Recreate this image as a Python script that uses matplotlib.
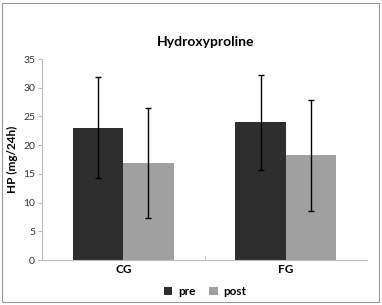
import numpy as np
import matplotlib.pyplot as plt
from matplotlib.patches import Rectangle

plt.rcParams['font.family'] = ['Lato', 'DejaVu Sans']

# data
groups = ['CG', 'FG']
pre_vals = [23.0, 24.0]
post_vals = [16.9, 18.2]
pre_err = [8.8, 8.3]
post_err = [9.5, 9.7]
series = ['pre', 'post']
yticks = [0, 5, 10, 15, 20, 25, 30, 35]

fig = plt.figure(figsize=(3.82, 3.05), dpi=100)
ax = fig.add_axes([0.110, 0.1475, 0.851, 0.659])

x = np.arange(len(groups))
w = 0.31
ax.bar(x - w/2, pre_vals, w, color='#2e2e2e', label=series[0],
       yerr=pre_err, error_kw=dict(ecolor='black', elinewidth=1, capsize=2.5, capthick=1))
ax.bar(x + w/2, post_vals, w, color='#a0a0a0', label=series[1],
       yerr=post_err, error_kw=dict(ecolor='black', elinewidth=1, capsize=2.5, capthick=1))

ax.set_xlim(-0.5, 1.5)
ax.set_ylim(0, 35)
ax.set_yticks(yticks)
ax.set_xticks(x)
ax.set_xticklabels(groups, fontweight='bold', fontsize=8.5)
ax.set_xticks([0.5], minor=True)
ax.tick_params(axis='x', which='major', length=0, pad=3)
ax.tick_params(axis='x', which='minor', length=3, color='#bbbbbb', direction='in')
ax.tick_params(axis='y', length=3, color='#bbbbbb', labelsize=7.5, labelcolor='#333333', pad=2)

for s in ['top', 'right']:
    ax.spines[s].set_visible(False)
for s in ['left', 'bottom']:
    ax.spines[s].set_color('#bbbbbb')
    ax.spines[s].set_linewidth(0.8)

ax.set_ylabel('HP (mg/24h)', fontweight='bold', fontsize=8.5, labelpad=4)
fig.text(0.537, 0.862, 'Hydroxyproline', ha='center', va='center',
         fontweight='bold', fontsize=10)

fig.legend(loc='center', bbox_to_anchor=(0.537, 0.045), ncol=2, frameon=False,
           handlelength=0.7, handleheight=0.7, columnspacing=1.2,
           handletextpad=0.5, prop={'weight': 'bold', 'size': 8.5})

fig.patches.append(Rectangle((0.006, 0.01), 0.986, 0.98, transform=fig.transFigure,
                             fill=False, edgecolor='#999999', linewidth=0.8))

fig.savefig('out.png', dpi=100)
